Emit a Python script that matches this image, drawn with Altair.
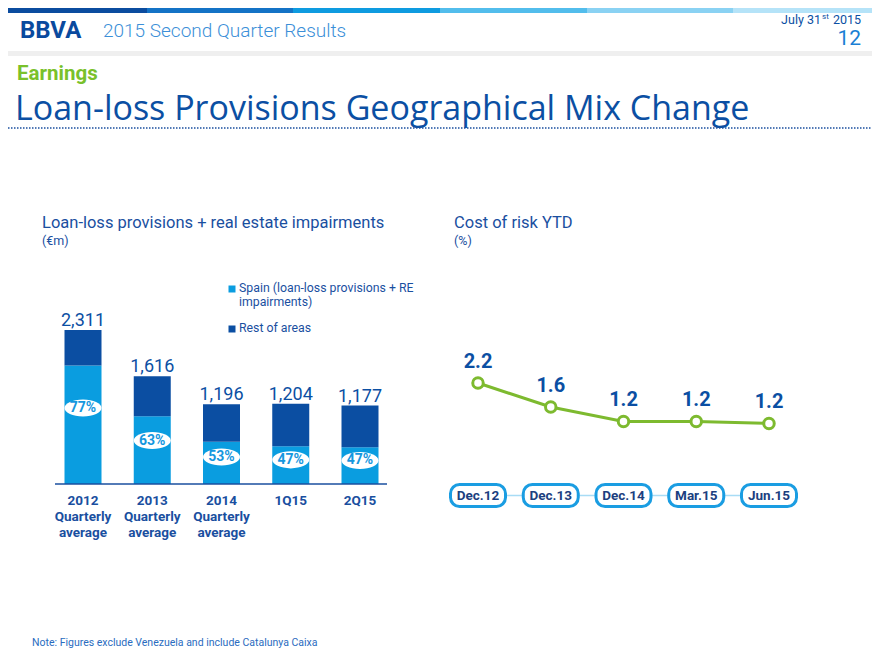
import altair as alt
import pandas as pd

# ---------------- data ----------------
periods = ["2012", "2013", "2014", "1Q15", "2Q15"]
period_labels = ["2012\nQuarterly\naverage", "2013\nQuarterly\naverage",
                 "2014\nQuarterly\naverage", "1Q15", "2Q15"]
totals = [2311, 1616, 1196, 1204, 1177]
spain_pct = [77, 63, 53, 47, 47]
series_names = ["Spain (loan-loss provisions + RE\nimpairments)", "Rest of areas"]

dates = ["Dec.12", "Dec.13", "Dec.14", "Mar.15", "Jun.15"]
cost_of_risk = [2.2, 1.6, 1.24, 1.24, 1.19]

# ---------------- styles ----------------
FONT = "Roboto"
NAVY = "#0b4fa3"
TITLE_BLUE = "#1a4f9f"
SPAIN_C = "#0a9de0"
REST_C = "#0b4ea2"
PCT_C = "#1697de"
GREEN = "#7dba2f"
EARN_GREEN = "#79c12b"
PILL_C = "#1a9de2"
OFF = 8  # page margin
W, H = 864, 644

def P(v):
    return v - OFF

wide = pd.DataFrame({"period": periods, "label": period_labels,
                     "total": totals, "pct": spain_pct})
wide["spain"] = wide["total"] * wide["pct"] / 100.0

rows = []
for p, t, s in zip(periods, totals, wide["spain"]):
    rows.append({"period": p, "series": series_names[0], "y0": 0, "y1": s})
    rows.append({"period": p, "series": series_names[1], "y0": s, "y1": t})
long = pd.DataFrame(rows)

line_df = pd.DataFrame({"date": dates, "cost": cost_of_risk})
legend_df = pd.DataFrame({"series": series_names})

one = alt.Data(values=[{}])

# ---------------- decorations ----------------
decor = []
stripe_cols = ["#0b4c9f", "#1473c6", "#0e9be0", "#52bdec", "#8ad2f3", "#b5e3f8"]
edges = [0, 147, 293, 440, 587, 733, 880]
for i, c in enumerate(stripe_cols):
    decor.append(alt.Chart(one).mark_rect(color=c).encode(
        x=alt.value(max(P(edges[i]), 0)), x2=alt.value(min(P(edges[i + 1]), W)),
        y=alt.value(0), y2=alt.value(5)))

decor.append(alt.Chart(one).mark_rect(color="#efefef").encode(
    x=alt.value(0), x2=alt.value(W), y=alt.value(P(51)), y2=alt.value(P(56))))


def txt(text, x, y, size, color, weight="normal", align="left",
        baseline="alphabetic", font=FONT):
    return alt.Chart(one).mark_text(text=text, fontSize=size, color=color,
                                    fontWeight=weight, align=align,
                                    baseline=baseline, font=font).encode(
        x=alt.value(P(x)), y=alt.value(P(y)))


decor += [
    txt("BBVA", 20, 38, 24, "#0a4a9e", "bold"),
    txt("2015 Second Quarter Results", 103, 37, 19, "#3c8fd8", 300),
    txt("July 31", 821, 24, 12.5, NAVY, align="right"),
    txt("st", 822, 19, 8, NAVY, align="left"),
    txt("2015", 861, 24, 12.5, NAVY, align="right"),
    txt("12", 861, 45, 21, "#1a7fd4", align="right"),
    txt("Earnings", 17, 80, 20.5, EARN_GREEN, "bold"),
    txt("Loan-loss Provisions Geographical Mix Change", 15, 120, 34, NAVY,
        font="Open Sans"),
    txt("Loan-loss provisions + real estate impairments", 42, 228, 16.5, TITLE_BLUE),
    txt("(€m)", 42, 245, 12.5, TITLE_BLUE),
    txt("Cost of risk YTD", 454, 228, 16.5, TITLE_BLUE),
    txt("(%)", 454, 245, 12.5, TITLE_BLUE),
    txt("Note: Figures exclude Venezuela and include Catalunya Caixa", 32, 646, 10.5, "#2a6cc0"),
]
decor.append(alt.Chart(one).mark_rule(color=TITLE_BLUE, strokeWidth=1.5,
                                      strokeDash=[1.5, 1.5]).encode(
    x=alt.value(0), x2=alt.value(W), y=alt.value(P(128)), y2=alt.value(P(128))))

# ---------------- bar chart ----------------
xs = alt.Scale(type="point", domain=periods, range=[P(83), P(360)], padding=0)
ys = alt.Scale(domain=[0, max(totals)], range=[P(484), P(330)], nice=False, zero=True)
cs = alt.Scale(domain=series_names, range=[SPAIN_C, REST_C])

bars = alt.Chart(long).mark_bar(size=37).encode(
    x=alt.X("period:N", scale=xs, axis=None),
    y=alt.Y("y0:Q", scale=ys, axis=None),
    y2="y1:Q",
    color=alt.Color("series:N", scale=cs, legend=None),
)
base_rule = alt.Chart(one).mark_rule(color=TITLE_BLUE, strokeWidth=1.5).encode(
    x=alt.value(P(55)), x2=alt.value(P(387)),
    y=alt.Y(datum=0, scale=ys, axis=None),
)
total_txt = alt.Chart(wide).mark_text(baseline="alphabetic", dy=-4, fontSize=18,
                                      color=NAVY, font=FONT).encode(
    x=alt.X("period:N", scale=xs, axis=None),
    y=alt.Y("total:Q", scale=ys, axis=None),
    text=alt.Text("total:Q", format=",d"),
)
ellipse_path = "M -1 0 A 1 0.46 0 1 1 1 0 A 1 0.46 0 1 1 -1 0 Z"
pct_base = alt.Chart(wide).transform_calculate(
    lab="datum.spain * 0.64", pct_label="datum.pct + '%'")
ellipses = pct_base.mark_point(shape=ellipse_path, size=1369, filled=True,
                               fill="white", opacity=1, strokeWidth=0).encode(
    x=alt.X("period:N", scale=xs, axis=None),
    y=alt.Y("lab:Q", scale=ys, axis=None),
)
pct_txt = pct_base.mark_text(fontSize=14, fontWeight="bold", color=PCT_C,
                             font=FONT, baseline="middle").encode(
    x=alt.X("period:N", scale=xs, axis=None),
    y=alt.Y("lab:Q", scale=ys, axis=None),
    text="pct_label:N",
)
period_txt = alt.Chart(wide).mark_text(baseline="top", lineBreak="\n", fontSize=13.5,
                                       fontWeight="bold", lineHeight=16,
                                       color=TITLE_BLUE, font=FONT).encode(
    x=alt.X("period:N", scale=xs, axis=None),
    y=alt.value(P(494)),
    text="label:N",
)
bar_group = alt.layer(bars, base_rule, total_txt, ellipses, pct_txt, period_txt)

# ---------------- legend ----------------
lys = alt.Scale(type="point", domain=series_names, range=[P(289), P(329)], padding=0)
leg_sq = alt.Chart(legend_df).mark_point(shape="square", size=49, filled=True,
                                         opacity=1).encode(
    x=alt.value(P(232)),
    y=alt.Y("series:N", scale=lys, axis=None),
    color=alt.Color("series:N", scale=cs, legend=None),
)
leg_txt = alt.Chart(legend_df).mark_text(align="left", baseline="top", dy=-7,
                                         lineBreak="\n", fontSize=12.3, lineHeight=14,
                                         color=TITLE_BLUE, font=FONT).encode(
    x=alt.value(P(239)),
    y=alt.Y("series:N", scale=lys, axis=None),
    text="series:N",
)
legend_group = alt.layer(leg_sq, leg_txt)

# ---------------- line chart ----------------
lxs = alt.Scale(type="point", domain=dates, range=[P(478), P(769)], padding=0)
lyv = alt.Scale(domain=[0, 2.5], range=[P(471), P(371)], nice=False, zero=True)
PILL_Y = P(495.5)

connector = alt.Chart(one).mark_rule(color="#a8dcf5", strokeWidth=1.5).encode(
    x=alt.value(P(449)), x2=alt.value(P(795)), y=alt.value(PILL_Y), y2=alt.value(PILL_Y))
line = alt.Chart(line_df).mark_line(color=GREEN, strokeWidth=3).encode(
    x=alt.X("date:N", scale=lxs, axis=None, sort=dates),
    y=alt.Y("cost:Q", scale=lyv, axis=None),
)
pts = alt.Chart(line_df).mark_point(shape="circle", size=110, filled=True,
                                    fill="white", stroke=GREEN, strokeWidth=3,
                                    opacity=1).encode(
    x=alt.X("date:N", scale=lxs, axis=None),
    y=alt.Y("cost:Q", scale=lyv, axis=None),
)
val_txt = alt.Chart(line_df).mark_text(dy=-21, baseline="middle", fontSize=20,
                                       fontWeight="bold", color=NAVY, font=FONT).encode(
    x=alt.X("date:N", scale=lxs, axis=None),
    y=alt.Y("cost:Q", scale=lyv, axis=None),
    text=alt.Text("cost:Q", format=".1f"),
)
pill_path = ("M -0.67 -0.4 L 0.67 -0.4 A 0.33 0.33 0 0 1 1 -0.07 L 1 0.07 "
             "A 0.33 0.33 0 0 1 0.67 0.4 L -0.67 0.4 A 0.33 0.33 0 0 1 -1 0.07 "
             "L -1 -0.07 A 0.33 0.33 0 0 1 -0.67 -0.4 Z")
pills = alt.Chart(line_df).mark_point(shape=pill_path, size=3025, filled=True,
                                      fill="white", stroke=PILL_C, strokeWidth=3,
                                      opacity=1).encode(
    x=alt.X("date:N", scale=lxs, axis=None),
    y=alt.value(PILL_Y),
)
pill_txt = alt.Chart(line_df).mark_text(fontSize=13.5, fontWeight="bold",
                                        color="#1c3f80", baseline="middle",
                                        font=FONT).encode(
    x=alt.X("date:N", scale=lxs, axis=None),
    y=alt.value(PILL_Y),
    text="date:N",
)
line_group = alt.layer(connector, line, pts, val_txt, pills, pill_txt)

chart = alt.layer(*decor, bar_group, legend_group, line_group).resolve_scale(
    x="independent", y="independent", color="independent"
).properties(
    width=W, height=H, autosize=alt.AutoSizeParams(type="none"),
    padding=0, background="white",
).configure(font=FONT).configure_view(strokeWidth=0, stroke="transparent")

chart.save("out.html", embed_options={"renderer": "svg", "actions": False})
